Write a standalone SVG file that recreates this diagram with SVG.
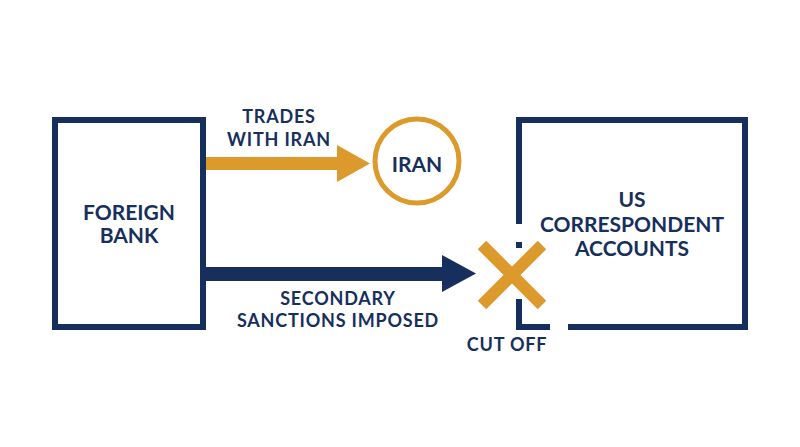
<svg xmlns="http://www.w3.org/2000/svg" width="800" height="447" viewBox="0 0 800 447">
  <style>
    .box { fill: none; stroke: #172f5c; stroke-width: 6; }
    .navy { fill: #172f5c; }
    .gold { fill: #dc9a2c; }
    text { font-family: Lato, "Open Sans", "Liberation Sans", sans-serif; font-weight: bold; fill: #172f5c; text-anchor: middle; }
    .lbl { font-size: 18px; letter-spacing: 0.8px; }
    .node { font-size: 21px; }
  </style>
  <rect width="800" height="447" fill="#ffffff"/>
  <g id="connectors">
    <g id="trades-arrow">
      <rect class="gold" x="206" y="157" width="133" height="13"/>
      <polygon class="gold" points="337,145 370,163.5 337,182"/>
      <text class="lbl" x="279" y="123">TRADES</text>
      <text class="lbl" x="279" y="146">WITH IRAN</text>
    </g>
    <g id="sanctions-arrow">
      <rect class="navy" x="206" y="267" width="238" height="14"/>
      <polygon class="navy" points="442,255 476,273.5 442,292"/>
      <text class="lbl" x="338" y="305">SECONDARY</text>
      <text class="lbl" x="338" y="327">SANCTIONS IMPOSED</text>
    </g>
  </g>
  <g id="foreign-bank">
    <rect class="box" x="55" y="120" width="148" height="207"/>
    <text class="node" x="129" y="220">FOREIGN</text>
    <text class="node" x="129" y="243">BANK</text>
  </g>
  <g id="iran">
    <circle cx="417" cy="161" r="42" fill="none" stroke="#dc9a2c" stroke-width="5"/>
    <text class="node" x="417" y="172">IRAN</text>
  </g>
  <g id="us-correspondent-accounts">
    <path class="box" d="M519,224 V120 H745 V327 H568 M550,327 H519 V299 M519,242 V248"/>
    <text class="node" x="632" y="207">US</text>
    <text class="node" x="632" y="232">CORRESPONDENT</text>
    <text class="node" x="632" y="256">ACCOUNTS</text>
  </g>
  <g id="cut-off">
    <path d="M482,245 L542,305 M542,245 L482,305" stroke="#dc9a2c" stroke-width="12" fill="none"/>
    <text class="lbl" x="507" y="351">CUT OFF</text>
  </g>
</svg>
